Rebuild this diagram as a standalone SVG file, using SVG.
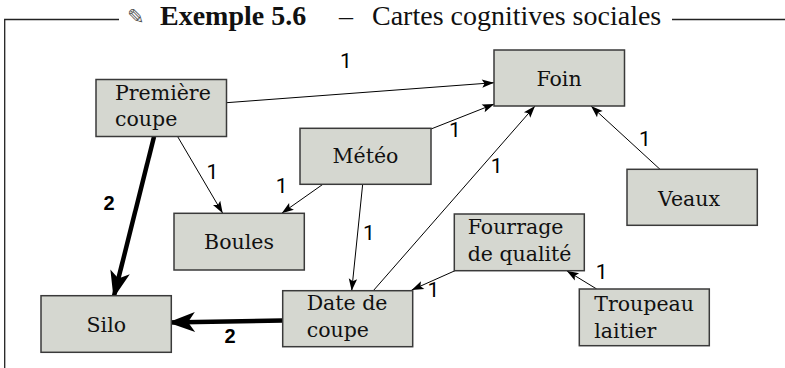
<svg xmlns="http://www.w3.org/2000/svg" width="785" height="368" viewBox="0 0 785 368">
<style>
.frame{fill:none;stroke:#222;stroke-width:1.3}
.title{font-family:"Liberation Serif","DejaVu Serif",serif;font-size:28px;fill:#111}
.pencil{font-family:"DejaVu Sans",sans-serif;font-size:21px;fill:#555}
.box{fill:#d5d7d0;stroke:#3a3a3a;stroke-width:1.5}
.lbl{font-family:"DejaVu Serif","Liberation Serif",serif;font-size:20.5px;fill:#111}
.c{text-anchor:middle}
.thin{stroke:#000;stroke-width:1;fill:none;marker-end:url(#ah)}
.thick{stroke:#000;stroke-width:4.5;fill:none;marker-end:url(#ahb)}
.one{font-family:Roboto,"DejaVu Sans",sans-serif;font-weight:normal;font-size:21px;fill:#000;text-anchor:middle}
.two{font-family:"Liberation Sans",Arial,sans-serif;font-weight:bold;font-size:20px;fill:#000;text-anchor:middle}
</style>
<defs>
<marker id="ah" viewBox="-13 -5 14 10" markerWidth="14" markerHeight="10" refX="0" refY="0" orient="auto" markerUnits="userSpaceOnUse">
<path d="M0,0 L-12,-4.2 L-9.5,0 L-12,4.2 Z" fill="#000"/>
</marker>
<marker id="ahb" viewBox="-28 -11 29 22" markerWidth="29" markerHeight="22" refX="0" refY="0" orient="auto" markerUnits="userSpaceOnUse">
<path d="M0,0 L-27,-10 L-20,0 L-27,10 Z" fill="#000"/>
</marker>
</defs>

<g id="frame">
<path class="frame" d="M4.7,368 V19.5 H119"/>
<path class="frame" d="M672,19.5 H785"/>
<text class="pencil" x="127" y="24">✎</text>
<text class="title" x="160" y="25" font-weight="bold">Exemple 5.6</text>
<text class="title" x="339" y="25">–</text>
<text class="title" x="372" y="25">Cartes cognitives sociales</text>
</g>

<g id="connectors">
<line class="thin" x1="226.5" y1="102.7" x2="494" y2="82.7"/>
<line class="thin" x1="431" y1="129" x2="494.3" y2="104"/>
<line class="thin" x1="373.3" y1="290.7" x2="535" y2="106"/>
<line class="thin" x1="660" y1="169.3" x2="591" y2="106"/>
<line class="thin" x1="177.7" y1="136.7" x2="222.7" y2="213.3"/>
<line class="thin" x1="323.3" y1="184" x2="281.7" y2="213.3"/>
<line class="thin" x1="362.7" y1="184" x2="351.7" y2="290.7"/>
<line class="thin" x1="455" y1="270.7" x2="411.7" y2="290"/>
<line class="thin" x1="596.7" y1="289" x2="566.7" y2="270.7"/>
<line class="thick" x1="154" y1="136.7" x2="113.5" y2="298"/>
<line class="thick" x1="282.7" y1="320.5" x2="168" y2="322.5"/>
<text class="one" x="346" y="68">1</text>
<text class="one" x="455" y="136.5">1</text>
<text class="one" x="496.7" y="173">1</text>
<text class="one" x="645" y="146">1</text>
<text class="one" x="212.3" y="179">1</text>
<text class="one" x="281.7" y="193">1</text>
<text class="one" x="369" y="240">1</text>
<text class="one" x="433.3" y="296.5">1</text>
<text class="one" x="601.7" y="279">1</text>
<text class="two" x="109" y="210">2</text>
<text class="two" x="230" y="342.5">2</text>
</g>

<g id="premiere-coupe">
<rect class="box" x="96" y="79.5" width="130.5" height="57"/>
<text class="lbl" x="115" y="100">Première</text>
<text class="lbl" x="115" y="125.7">coupe</text>
</g>
<g id="meteo">
<rect class="box" x="300" y="128.3" width="131" height="56"/>
<text class="lbl c" x="365.5" y="163.3">Météo</text>
</g>
<g id="foin">
<rect class="box" x="494" y="50" width="130.5" height="56"/>
<text class="lbl c" x="559" y="86">Foin</text>
</g>
<g id="veaux">
<rect class="box" x="627" y="169.3" width="130.3" height="56"/>
<text class="lbl c" x="689" y="205.7">Veaux</text>
</g>
<g id="fourrage">
<rect class="box" x="454.3" y="214" width="130" height="56.7"/>
<text class="lbl" x="467.7" y="234.3">Fourrage</text>
<text class="lbl" x="467.7" y="261">de qualité</text>
</g>
<g id="troupeau">
<rect class="box" x="579.3" y="289" width="130" height="56.7"/>
<text class="lbl" x="594.3" y="311">Troupeau</text>
<text class="lbl" x="594.3" y="337.7">laitier</text>
</g>
<g id="boules">
<rect class="box" x="174" y="213.3" width="130.3" height="56.7"/>
<text class="lbl c" x="239" y="249.3">Boules</text>
</g>
<g id="silo">
<rect class="box" x="41" y="295.7" width="130.3" height="56.6"/>
<text class="lbl c" x="106.3" y="331.7">Silo</text>
</g>
<g id="date-coupe">
<rect class="box" x="282.7" y="290.7" width="130" height="56"/>
<text class="lbl" x="306.7" y="310">Date de</text>
<text class="lbl" x="306.7" y="336.7">coupe</text>
</g>
</svg>
